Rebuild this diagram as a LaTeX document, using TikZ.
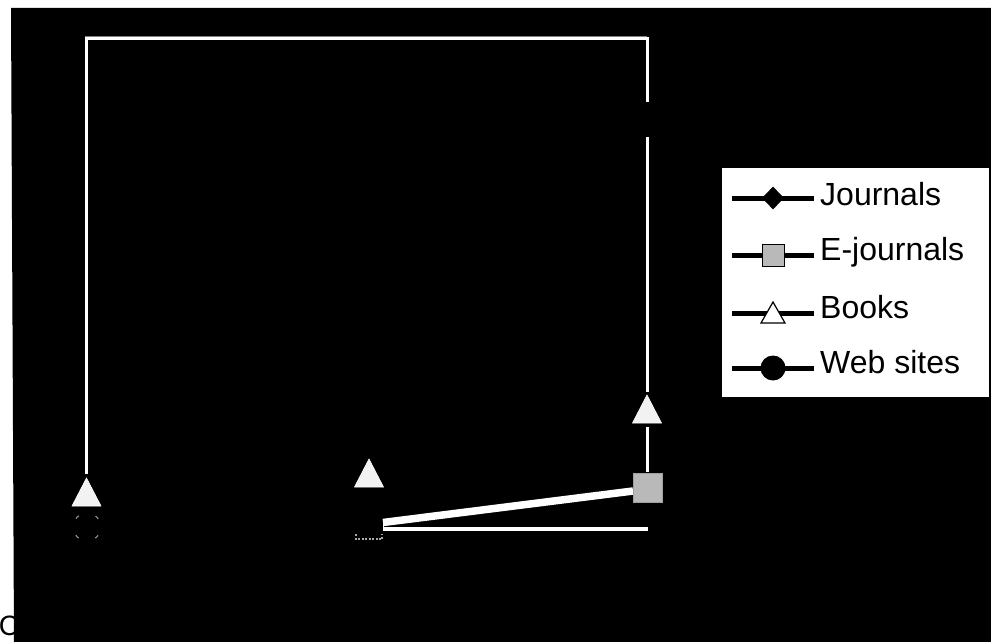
\documentclass[tikz,border=0pt]{standalone}
\usepackage{fontspec}
\setmainfont{Liberation Sans}
\usetikzlibrary{shapes.geometric}
\begin{document}
\begin{tikzpicture}[x=1pt,y=-1pt,
  plotline/.style={white,line width=3pt},
  legline/.style={black,line width=5pt},
  legtext/.style={anchor=base west,inner sep=0pt,font=\fontsize{32}{38}\selectfont},
  booktri/.pic={\filldraw[fill=white!90!gray,draw=white,line width=0.6pt] (0,-14) -- (14.5,14) -- (-14.5,14) -- cycle;},
  legtri/.pic={\filldraw[fill=white,draw=black,line width=1.2pt] (0,-10.5) -- (12,10.5) -- (-12,10.5) -- cycle;}
]
\useasboundingbox (0,0) rectangle (991,642);
\fill[white] (0,0) rectangle (991,642);
% cut-off axis label at the left edge
\node[anchor=base,inner sep=0pt,font=\fontsize{28}{34}\selectfont] (cl) at (9,635) {C};
% black background
\fill[black] (11,8) -- (991,8) -- (991,642) -- (14,642) -- cycle;

% plot frame and series lines
\coordinate (tl) at (86.5,38.5);
\coordinate (tr) at (647,38.5);
\coordinate (la) at (86.5,474);
\coordinate (ra) at (647,102);
\coordinate (rb) at (647,137);
\coordinate (rc) at (647,392);
\coordinate (rd) at (647,427);
\coordinate (re) at (647,472);
\draw[plotline,line join=miter] (la) -- (tl) -- (tr) -- (ra);
\draw[gray,line width=0.8pt] (85,36.5) -- (647,36.5);
\draw[plotline] (rb) -- (rc);
\draw[plotline] (rd) -- (re);

% E-journals band and web-sites line
\coordinate (e2) at (383,522.5);
\coordinate (e3) at (633,491);
\draw[white,line width=7.5pt] (e2) -- (e3);
\coordinate (w2) at (383,529);
\coordinate (w3) at (648,529);
\draw[white,line width=3.5pt] (w2) -- (w3);
\draw[white,line width=1.5pt] (383.5,519) -- (383.5,531);

% markers in the plot
\pic (b1) at (86.5,492) {booktri};
\pic (b2) at (369,473) {booktri};
\pic (b3) at (647,409) {booktri};
\node[fill=gray!55,draw=gray!75,minimum size=29pt,inner sep=0pt] (sq3) at (647.5,488) {};
\draw[gray!70,line width=1.2pt,dash pattern=on 2pt off 1.5pt] (356,534) -- (356,539) -- (382,539) -- (382,534);
\draw[gray!80,line width=1pt,dash pattern=on 4pt off 18pt,dash phase=-9pt] (87,527) circle (14);

% legend
\fill[white] (722,168) rectangle (989,397);
\coordinate (j0) at (732,198); \coordinate (j1) at (814,198);
\draw[legline] (j0) -- (j1);
\node[diamond,fill=black,minimum width=22pt,minimum height=23pt,inner sep=0pt] (jm) at (773,198) {};
\node[legtext] (jt) at (820,205) {Journals};

\coordinate (k0) at (732,255); \coordinate (k1) at (814,255);
\draw[legline] (k0) -- (k1);
\node[fill=gray!55,draw=black,line width=1pt,minimum size=22pt,inner sep=0pt] (km) at (773,255) {};
\node[legtext] (kt) at (820,260) {E-journals};

\coordinate (m0) at (732,313); \coordinate (m1) at (814,313);
\draw[legline] (m0) -- (m1);
\pic (mm) at (773,312.5) {legtri};
\node[legtext] (mt) at (820,318) {Books};

\coordinate (n0) at (732,368); \coordinate (n1) at (814,368);
\draw[legline] (n0) -- (n1);
\node[circle,fill=black,minimum size=25pt,inner sep=0pt] (nm) at (773,368) {};
\node[legtext] (nt) at (820,373) {Web sites};
\end{tikzpicture}
\end{document}
